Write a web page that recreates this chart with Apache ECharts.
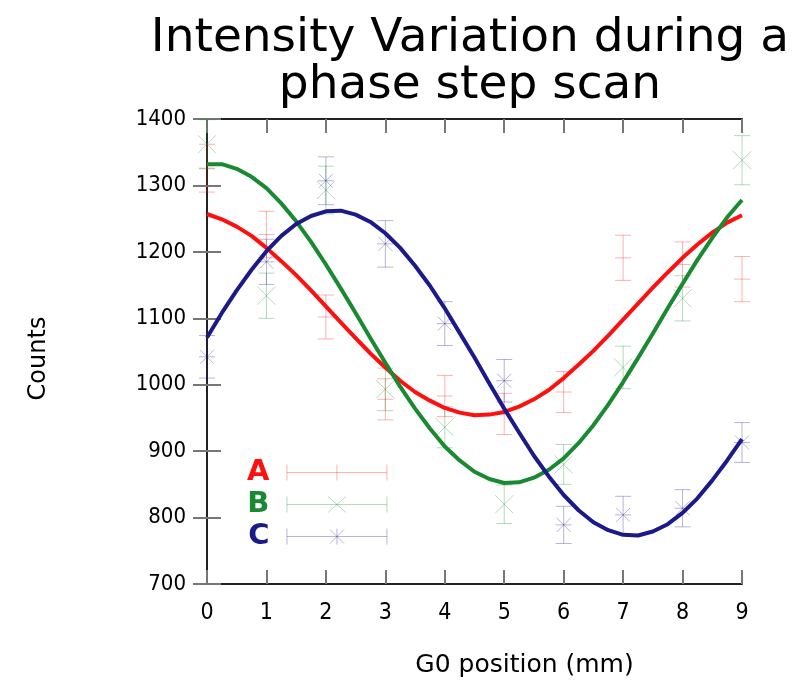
<!DOCTYPE html>
<html><head><meta charset="utf-8">
<script src="https://cdn.jsdelivr.net/npm/echarts@6/dist/echarts.min.js"></script>
<style>html,body{margin:0;padding:0;background:#fff}#c{width:802px;height:689px}</style>
</head><body><div id="c"></div>
<script>
// ---- data ----
const positions = [0, 1, 2, 3, 4, 5, 6, 7, 8, 9];
const countsA = [1326, 1226, 1102, 978, 983, 956, 989, 1191, 1181, 1159];
const errA    = [36, 35, 33, 31, 31, 31, 31, 34, 34, 34];
const countsB = [1362, 1134, 1293, 993, 936, 820, 880, 1026, 1130, 1338];
const errB    = [37, 34, 36, 32, 31, 29, 30, 32, 34, 37];
const countsC = [1042, 1185, 1307, 1212, 1092, 1006, 789, 804, 814, 913];
const errC    = [32, 34, 36, 35, 33, 32, 28, 28, 28, 30];

// fitted curves, every 0.25 mm
const fitX = [0, 0.25, 0.5, 0.75, 1, 1.25, 1.5, 1.75, 2, 2.25, 2.5, 2.75, 3, 3.25, 3.5, 3.75, 4, 4.25, 4.5,
              4.75, 5, 5.25, 5.5, 5.75, 6, 6.25, 6.5, 6.75, 7, 7.25, 7.5, 7.75, 8, 8.25, 8.5, 8.75, 9];
const fitA = [1257, 1249, 1238, 1224, 1206, 1186, 1165, 1142, 1118, 1094, 1070, 1047, 1026, 1006, 989, 976, 965, 958, 954,
              955, 959, 967, 978, 992, 1010, 1030, 1051, 1074, 1098, 1122, 1146, 1169, 1191, 1211, 1229, 1244, 1255];
const fitB = [1332, 1332, 1325, 1313, 1296, 1273, 1246, 1215, 1181, 1145, 1108, 1070, 1033, 997, 964, 934, 907, 886, 869,
              858, 852, 853, 860, 872, 889, 912, 939, 970, 1004, 1040, 1077, 1115, 1152, 1188, 1221, 1252, 1278];
const fitC = [1071, 1108, 1142, 1173, 1201, 1224, 1242, 1254, 1261, 1262, 1256, 1245, 1228, 1206, 1179, 1149, 1115, 1078, 1041,
              1002, 964, 928, 893, 862, 834, 811, 793, 781, 774, 773, 779, 790, 807, 829, 856, 886, 918];

const xTicks = [0, 1, 2, 3, 4, 5, 6, 7, 8, 9];
const yTicks = [700, 800, 900, 1000, 1100, 1200, 1300, 1400];

const names = ['A', 'B', 'C'];
const lineColors = ['#ff1010', '#1a8a32', '#1c1a8a'];
const barColors = ['rgba(255,16,16,0.32)', 'rgba(26,138,50,0.32)', 'rgba(28,26,138,0.32)'];
const markers = ['plus', 'cross', 'star'];

const FONT = 'DejaVu Sans';
const TICKFONT = "'DejaVu Sans Condensed', 'DejaVu Sans', sans-serif";

function errRender(marker) {
  return function (params, api) {
    const x = api.value(0), y = api.value(1), e = api.value(2);
    const c = api.coord([x, y]);
    const hi = api.coord([x, y + e]);
    const lo = api.coord([x, y - e]);
    const w = 8, m = 8, d = 7;
    const style = { stroke: api.visual('color'), lineWidth: 1, fill: null };
    const L = (x1, y1, x2, y2) => ({ type: 'line', shape: { x1, y1, x2, y2 }, style });
    const ch = [
      L(c[0], hi[1], c[0], lo[1]),
      L(c[0] - w, hi[1], c[0] + w, hi[1]),
      L(c[0] - w, lo[1], c[0] + w, lo[1])
    ];
    if (marker === 'plus' || marker === 'star') {
      ch.push(L(c[0] - m, c[1], c[0] + m, c[1]));
    }
    if (marker === 'cross' || marker === 'star') {
      const k = marker === 'cross' ? 9 : d;
      ch.push(L(c[0] - k, c[1] - k, c[0] + k, c[1] + k));
      ch.push(L(c[0] - k, c[1] + k, c[0] + k, c[1] - k));
    }
    return { type: 'group', children: ch };
  };
}

const pts = [countsA, countsB, countsC];
const errs = [errA, errB, errC];
const fits = [fitA, fitB, fitC];

const series = [];
names.forEach((n, i) => {
  series.push({
    name: n, type: 'custom', renderItem: errRender(markers[i]),
    itemStyle: { color: barColors[i] },
    data: positions.map((p, j) => [p, pts[i][j], errs[i][j]]),
    encode: { x: 0, y: 1 }, z: 2
  });
});
names.forEach((n, i) => {
  series.push({
    name: 'fit' + n, type: 'line', smooth: false, showSymbol: false,
    lineStyle: { color: lineColors[i], width: 4, join: 'round' }, itemStyle: { color: lineColors[i] },
    data: fitX.map((x, j) => [x, fits[i][j]]), z: 5, silent: true
  });
});

const iconPaths = [
  'path://M0,0L0,16M0,8L100,8M100,0L100,16M50,0L50,16',
  'path://M0,0L0,16M0,8L100,8M100,0L100,16M41,0L59,16M59,0L41,16',
  'path://M0,0L0,16M0,8L100,8M100,0L100,16M50,0L50,16M43,1L57,15M57,1L43,15'
];

const axisLineStyle = { color: '#222', width: 2 };
const tickStyle = { color: '#777', width: 2 };

const chart = echarts.init(document.getElementById('c'));
chart.setOption({
  animation: false,
  backgroundColor: '#fff',
  title: {
    text: 'Intensity Variation during a\nphase step scan',
    left: 465, top: 10, textAlign: 'center',
    textStyle: { fontFamily: FONT, fontSize: 47, fontWeight: 'normal', color: '#000', lineHeight: 47 }
  },
  legend: {
    orient: 'vertical', left: 242, top: 453, itemGap: 3, align: 'right',
    itemWidth: 101, itemHeight: 16,
    data: names.map((n, i) => ({
      name: n, icon: iconPaths[i],
      itemStyle: { color: 'rgba(0,0,0,0)', borderColor: barColors[i], borderWidth: 1 },
      textStyle: { color: lineColors[i], fontFamily: FONT, fontSize: 29, lineHeight: 26, fontWeight: 'bold', padding: [0, 12, 0, 0] }
    }))
  },
  grid: { left: 207, right: 60, top: 119, bottom: 105 },
  xAxis: [{
    type: 'value', min: 0, max: 9, interval: 1, position: 'bottom',
    name: 'G0 position (mm)', nameLocation: 'middle', nameGap: 69,
    nameTextStyle: { fontFamily: FONT, fontSize: 25, color: '#000', padding: [0, 0, 0, 100] },
    axisLine: { show: true, lineStyle: axisLineStyle },
    axisTick: { show: true, inside: true, length: 14, lineStyle: tickStyle },
    axisLabel: { fontFamily: TICKFONT, fontSize: 23, color: '#000', margin: 18,
      formatter: v => xTicks.indexOf(v) >= 0 ? String(v) : '' },
    splitLine: { show: false }
  }, {
    type: 'value', min: 0, max: 9, interval: 1, position: 'top',
    axisLine: { show: true, lineStyle: axisLineStyle },
    axisTick: { show: true, inside: true, length: 14, lineStyle: tickStyle },
    axisLabel: { show: false }, splitLine: { show: false }
  }],
  yAxis: [{
    type: 'value', min: 700, max: 1400, interval: 100, position: 'left',
    name: 'Counts', nameLocation: 'middle', nameGap: 156, nameRotate: 90,
    nameTextStyle: { fontFamily: FONT, fontSize: 24, color: '#000', padding: [0, 14, 0, 0] },
    axisLine: { show: true, lineStyle: axisLineStyle },
    axisTick: { show: true, inside: true, length: 14, lineStyle: tickStyle },
    axisLabel: { fontFamily: TICKFONT, fontSize: 22, color: '#000', margin: 21,
      formatter: v => yTicks.indexOf(v) >= 0 ? String(v) : '' },
    splitLine: { show: false }
  }, {
    type: 'value', min: 700, max: 1400, interval: 100, position: 'right',
    axisLine: { show: true, lineStyle: axisLineStyle },
    axisTick: { show: true, inside: true, length: 14, lineStyle: tickStyle },
    axisLabel: { show: false }, splitLine: { show: false }
  }],
  series: series
});
</script></body></html>
